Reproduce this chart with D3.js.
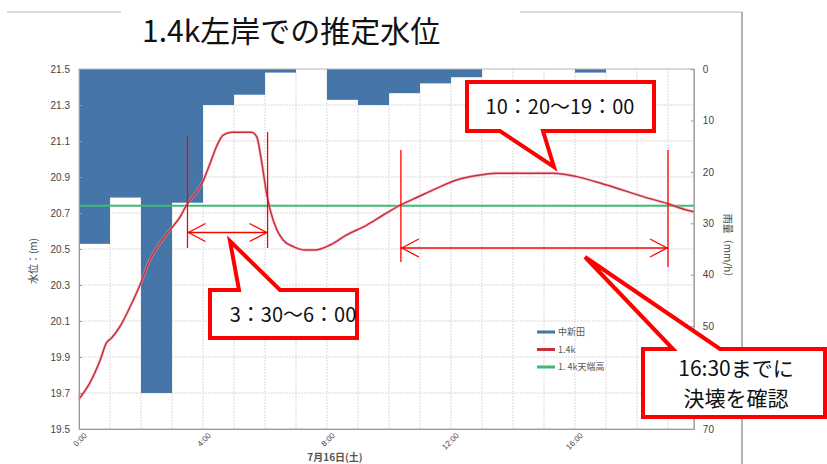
<!DOCTYPE html>
<html><head><meta charset="utf-8">
<script src="https://cdn.jsdelivr.net/npm/d3@7/dist/d3.min.js"></script>
<style>body{margin:0;background:#fff}</style>
</head><body><svg id="c" width="827" height="464"></svg>
<script>
// ---------- data ----------
const rainHours = ["0:00","1:00","2:00","3:00","4:00","5:00","6:00","7:00","8:00","9:00","10:00","11:00","12:00","13:00","14:00","15:00","16:00","17:00","18:00","19:00"];
const rainfall  = [34, 25, 63, 26, 7, 5, 0.7, 0, 6, 7, 4.7, 2.8, 1.6, 0, 0, 0, 0.7, 0, 0, 0];

const levelTimes  = ["0:00","0:21","0:41","0:53","1:03","1:19","1:39","1:58","2:17","2:37","2:56","3:16","3:28","3:48","4:01","4:14","4:26","4:39","4:56","5:34","5:44","5:53","6:03","6:10","6:23","6:35","6:55","7:17","7:37","8:06","8:38","9:17","9:49","10:21","10:56","11:32","12:11","12:50","13:28","15:18","16:03","17:01","18:12","19:01","19:36","19:50"];
const levelValues = [19.667,19.756,19.883,19.978,20.006,20.068,20.179,20.30,20.439,20.533,20.606,20.68,20.744,20.818,20.883,20.978,21.068,21.133,21.148,21.148,21.124,20.994,20.811,20.717,20.606,20.55,20.513,20.494,20.494,20.522,20.578,20.633,20.689,20.742,20.789,20.837,20.883,20.908,20.921,20.921,20.902,20.856,20.791,20.75,20.717,20.707];

const crestHeight = 20.74;
const timeStart = "0:00", timeEnd = "19:50";
const xTickLabels = ["0:00","4:00","8:00","12:00","16:00"];
const leftTicks  = [19.5,19.7,19.9,20.1,20.3,20.5,20.7,20.9,21.1,21.3,21.5];
const rightTicks = [0,10,20,30,40,50,60,70];
const hiddenRightLabels = [60]; // covered by the callout in the reference
const legendLabels = ["中新田","1.4k","1. 4k天端高"];

const title = "1.4k左岸での推定水位";
const xTitle = "7月16日(土)";
const yLeftTitle = "水位：(m)";
const yRightTitle = "雨量（mm/h）";

const spanA = ["3:30","6:05"];
const spanB = ["10:23","19:00"];
const calloutA = ["3：30〜6：00"];
const calloutB = ["10：20〜19：00"];
const calloutC = ["16:30までに","決壊を確認"];

// ---------- helpers ----------
const toH = s => { const [h,m] = s.split(":").map(Number); return h + m/60; };
const svg = d3.select("#c");
const W = 827, H = 464;
const pl = 79, pt = 69, pb = 429;
const tEnd = toH(timeEnd);
const x  = d3.scaleLinear().domain([toH(timeStart), tEnd]).range([pl, pl + 31*tEnd]);
const yL = d3.scaleLinear().domain([19.5, 21.5]).range([pb, pt]);
const yR = d3.scaleLinear().domain([0, 70]).range([pt, pb]);
const pr = x(tEnd);
const tickFont = "'Liberation Sans', Arial, sans-serif";
const jpFont = "'Noto Sans CJK JP', 'Noto Sans', sans-serif";

// frame
svg.append("line").attr("x1",7).attr("x2",121).attr("y1",12).attr("y2",12).attr("stroke","#d0d0d0").attr("stroke-width",1.5);
svg.append("line").attr("x1",520).attr("x2",742).attr("y1",12).attr("y2",12).attr("stroke","#d0d0d0").attr("stroke-width",1.5);
svg.append("line").attr("x1",742).attr("x2",742).attr("y1",12).attr("y2",H).attr("stroke","#9a9a9a").attr("stroke-width",1.5);

// title
svg.append("text").attr("x",142).attr("y",42).attr("font-family",jpFont).attr("font-size",30).attr("fill","#111").text(title);

// grid
const g = svg.append("g");
g.selectAll(".vg").data(d3.range(1, Math.floor(tEnd)+1)).join("line")
  .attr("x1",d=>x(d)).attr("x2",d=>x(d)).attr("y1",pt).attr("y2",pb)
  .attr("stroke","#d9d9d9").attr("stroke-width",1).attr("stroke-dasharray","2,1");
g.selectAll(".hg").data(leftTicks.slice(1,-1)).join("line")
  .attr("x1",pl).attr("x2",pr).attr("y1",d=>yL(d)).attr("y2",d=>yL(d))
  .attr("stroke","#d9d9d9").attr("stroke-width",1).attr("stroke-dasharray","2,1");

// bars
svg.append("g").selectAll("rect").data(rainHours.map((h,i)=>({t:toH(h), v:rainfall[i]}))).join("rect")
  .attr("x",d=>x(d.t)).attr("width",d=>x(Math.min(d.t+1,tEnd))-x(d.t))
  .attr("y",yR(0)).attr("height",d=>yR(d.v)-yR(0))
  .attr("fill","#4676a8");

// plot border
svg.append("rect").attr("x",pl).attr("y",pt).attr("width",pr-pl).attr("height",pb-pt)
  .attr("fill","none").attr("stroke","#b5b5b5").attr("stroke-width",1);

// crest line
svg.append("line").attr("x1",x(0)).attr("x2",pr).attr("y1",yL(crestHeight)).attr("y2",yL(crestHeight))
  .attr("stroke","#3dbb74").attr("stroke-width",2);

// level line
const lvl = levelTimes.map((t,i)=>({t:toH(t), v:levelValues[i]}));
const line = d3.line().x(d=>x(d.t)).y(d=>yL(d.v)).curve(d3.curveMonotoneX);
svg.append("path").datum(lvl).attr("d",line).attr("fill","none").attr("stroke","#eea0a8").attr("stroke-width",3).attr("opacity",0.6);
svg.append("path").datum(lvl).attr("d",line).attr("fill","none").attr("stroke","#c8303e").attr("stroke-width",1.5);

// axes
const axL = svg.append("g").attr("transform",`translate(${pl},0)`)
  .call(d3.axisLeft(yL).tickValues(leftTicks).tickFormat(d3.format(".1f")).tickSize(-3).tickPadding(9));
const axR = svg.append("g").attr("transform",`translate(${pr},0)`)
  .call(d3.axisRight(yR).tickValues(rightTicks).tickFormat(d=>hiddenRightLabels.includes(d)?"":d).tickSize(-3).tickPadding(9));
const axB = svg.append("g").attr("transform",`translate(0,${pb})`)
  .call(d3.axisBottom(x).tickValues(xTickLabels.map(toH)).tickFormat((d,i)=>xTickLabels[i]).tickSize(0));
[axL,axR,axB].forEach(a=>{
  a.select(".domain").attr("stroke","#999");
  a.selectAll(".tick line").attr("stroke","#999");
  a.selectAll("text").attr("font-family",tickFont).attr("font-size",10).attr("fill","#444");
});
axB.selectAll("text").attr("font-size",8).attr("y",0).attr("dy",0)
  .attr("text-anchor","end").attr("transform","translate(8,7) rotate(-45)");

// axis titles
svg.append("text").attr("transform","translate(37,261) rotate(-90)").attr("text-anchor","middle")
  .attr("font-family",jpFont).attr("font-size",10).attr("fill","#444").text(yLeftTitle);
svg.append("text").attr("transform","translate(724,248) rotate(90)").attr("text-anchor","middle")
  .attr("font-family",jpFont).attr("font-size",10).attr("fill","#444").text(yRightTitle);
svg.append("text").attr("x",335).attr("y",461).attr("text-anchor","middle")
  .attr("font-family",jpFont).attr("font-size",10).attr("font-weight","bold").attr("fill","#555").text(xTitle);

// legend
const legColors = ["#4676a8","#c8303e","#3dbb74"];
const lg = svg.append("g");
legendLabels.forEach((lab,i)=>{
  const yy = 332 + i*17.5;
  lg.append("line").attr("x1",537).attr("x2",555).attr("y1",yy).attr("y2",yy).attr("stroke",legColors[i]).attr("stroke-width",3);
  lg.append("text").attr("x",558).attr("y",yy).attr("dy","0.35em").attr("font-family",jpFont).attr("font-size",9).attr("fill","#555").text(lab);
});

// span markers
const red = "#ff0000";
function span(times, y1a, y2a, y1b, y2b, ay){
  const xa = x(toH(times[0])), xb = x(toH(times[1]));
  svg.append("line").attr("x1",xa).attr("x2",xa).attr("y1",y1a).attr("y2",y2a).attr("stroke",red).attr("stroke-width",1.3);
  svg.append("line").attr("x1",xb).attr("x2",xb).attr("y1",y1b).attr("y2",y2b).attr("stroke",red).attr("stroke-width",1.3);
  svg.append("line").attr("x1",xa).attr("x2",xb).attr("y1",ay).attr("y2",ay).attr("stroke",red).attr("stroke-width",1.3);
  svg.append("path").attr("d",`M${xa+18},${ay-9}L${xa+1},${ay}L${xa+18},${ay+9}M${xb-18},${ay-9}L${xb-1},${ay}L${xb-18},${ay+9}`)
    .attr("fill","none").attr("stroke",red).attr("stroke-width",1.3);
}
span(spanA, 136, 248, 132, 248, 232.5);
span(spanB, 150, 262, 150, 267, 248);

// callouts
function callout(pts, lines, cx, cy, fs, lh){
  svg.append("path").attr("d","M"+pts.map(p=>p.join(",")).join("L")+"Z")
    .attr("fill","#fff").attr("stroke",red).attr("stroke-width",4).attr("stroke-linejoin","miter");
  lines.forEach((s,i)=>{
    svg.append("text").attr("x",cx).attr("y",cy + (i-(lines.length-1)/2)*lh).attr("dy","0.36em")
      .attr("text-anchor","middle").attr("font-family",jpFont).attr("font-size",fs).attr("fill","#111").text(s);
  });
}
callout([[210,290],[239,290],[230,241],[280,290],[357,290],[357,338],[210,338]], calloutA, 293, 315, 20, 0);
callout([[467,82],[654,82],[654,131],[543,131],[554,167],[500,131],[467,131]], calloutB, 560, 107, 20, 0);
callout([[643,349],[673,349],[585,257],[720,349],[825,349],[825,417],[643,417]], calloutC, 736, 383, 21, 30);
</script></body></html>
